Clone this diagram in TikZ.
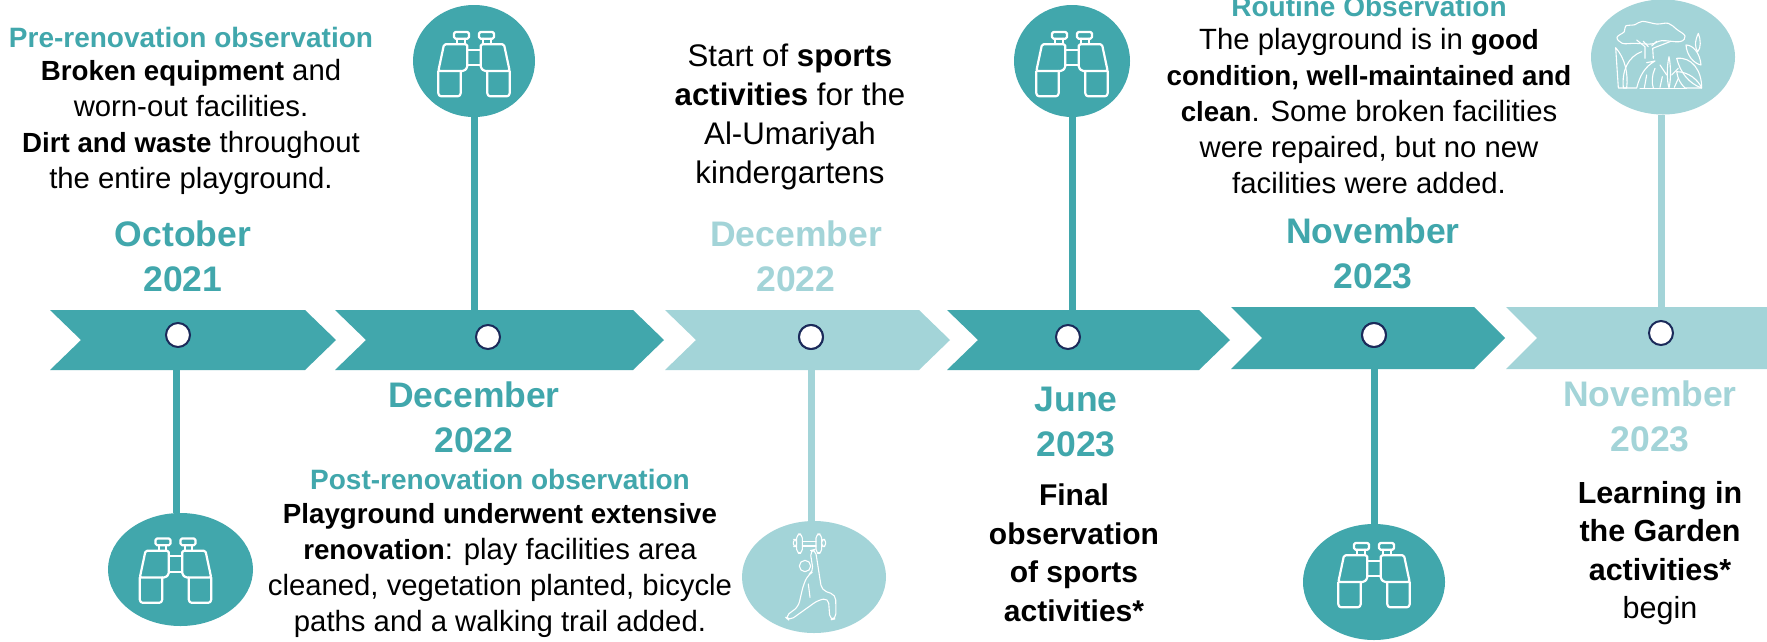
\documentclass[tikz,border=0pt]{standalone}
\usepackage{fontspec}
\setmainfont{Liberation Sans}
\usetikzlibrary{shapes.geometric}
\definecolor{teal1}{HTML}{41A7AC}
\definecolor{light1}{HTML}{A3D4D8}
\definecolor{navy1}{HTML}{1B2A5A}
\tikzset{
  bodytxt/.style={align=center,inner sep=0pt,font=\fontsize{29.3}{36}\selectfont,text=black},
  headtxt/.style={align=center,inner sep=0pt,font=\fontsize{28}{32}\selectfont\bfseries},
  datetxt/.style={align=center,inner sep=0pt,font=\fontsize{35.5}{45}\selectfont\bfseries},
  dot/.style={circle,draw=navy1,line width=2pt,fill=white,minimum size=24pt,inner sep=0pt},
  disc/.style={ellipse,inner sep=0pt,draw=none},
  stem/.style={line width=7pt},
  iconline/.style={draw=white,line width=2.2pt,line join=round,line cap=round,rounded corners=1.5pt},
  thinline/.style={draw=white,line width=1.1pt,line join=round,line cap=round},
}
\newcommand{\bb}[1]{{\fontsize{27.7}{\baselineskip}\selectfont\bfseries #1}}
\newcommand{\chev}[5]{% left,right tip,mid y,half h,colour
  \fill[#5] (#1,#3-#4) -- (#2-31,#3-#4) -- (#2,#3) -- (#2-31,#3+#4) -- (#1,#3+#4) -- (#1+31,#3) -- cycle;}
\newcommand{\binohalf}{%
  \draw[iconline] (-90,-56) -- (-20,-56) -- (-20,14) -- (-30,24) -- (-107,24) -- cycle;
  \draw[iconline,rounded corners=3pt] (-107,24) -- (-107,100) -- (-40,100) -- (-40,24);
  \draw[iconline] (-60,-93) rectangle (-15,-73);
  \draw[iconline] (-50,-73) -- (-50,-58) (-28,-73) -- (-28,-58);
  \draw[iconline] (-20,-40) -- (0,-40) (-20,7) -- (0,7);
}
\newcommand{\bino}[1]{%
  \begin{scope}[shift={(#1)},scale=1/3]
    \binohalf
    \begin{scope}[xscale=-1]\binohalf\end{scope}
  \end{scope}}
\begin{document}
\begin{tikzpicture}[x=1pt,y=-1pt]
\useasboundingbox (0,0) rectangle (1767,641);
\fill[white] (0,0) rectangle (1767,641);
% chevrons
\chev{50}{336}{340}{30}{teal1}
\chev{335}{664}{340}{30}{teal1}
\chev{665}{950}{340}{30}{light1}
\chev{947}{1230}{340}{30}{teal1}
\chev{1231}{1505}{338}{31}{teal1}
\chev{1506}{1798}{338}{31}{light1}
% dots
\node[dot] (d1) at (178,335) {};
\node[dot] (d2) at (488,337) {};
\node[dot] (d3) at (811,337) {};
\node[dot] (d4) at (1068,337) {};
\node[dot] (d5) at (1374,335) {};
\node[dot] (d6) at (1661,333) {};
% discs
\node[disc,fill=teal1,minimum width=145pt,minimum height=113pt] (e1) at (180.5,569.5) {};
\node[disc,fill=teal1,minimum width=122pt,minimum height=112pt] (e2) at (474,61) {};
\node[disc,fill=light1,minimum width=144pt,minimum height=112pt] (e3) at (814,577) {};
\node[disc,fill=teal1,minimum width=116pt,minimum height=112pt] (e4) at (1072,61) {};
\node[disc,fill=teal1,minimum width=142pt,minimum height=116pt] (e5) at (1374,582) {};
\node[disc,fill=light1,minimum width=144pt,minimum height=115pt] (e6) at (1663,57) {};
% stems
\draw[stem,teal1] ([xshift=-1.5pt]d1.south) -- ([xshift=-1.5pt]d1 |- e1.north);
\draw[stem,teal1] (e2.south -| 474,0) -- (474,310);
\draw[stem,light1] (d3) -- (d3 |- e3.north);
\draw[stem,teal1] (e4.south -| 1072,0) -- (1072,310);
\draw[stem,teal1] (d5) -- (d5 |- e5.north);
\draw[stem,light1] (e6.south -| 1661,0) -- (1661,308);
\node[dot] at (d3) {};
\node[dot] at (d5) {};
% icons
\bino{175.5,569.5}
\bino{474,63}
\bino{1072,63}
\bino{1374,574}
% person
\begin{scope}[shift={(740,510)},scale=1/3]
  \draw[thinline] (195,168) circle (17);
  \draw[thinline,rounded corners=5pt] (210,122) -- (226,118) -- (245,240) -- (287,255) -- (288,326) -- (270,330) -- (265,265) -- (235,270) -- (148,332) -- (135,320) -- (175,290) -- (190,225) -- (204,195) -- (220,185) -- cycle;
  \draw[thinline] (205,222) -- (210,262);
  \draw[thinline,rounded corners=4pt] (170,72) rectangle (187,130);
  \draw[thinline,rounded corners=4pt] (228,72) rectangle (245,130);
  \draw[thinline,rounded corners=3pt] (160,88) rectangle (170,110);
  \draw[thinline,rounded corners=3pt] (245,88) rectangle (257,110);
  \draw[thinline] (187,94) -- (228,94) (187,108) -- (228,108);
\end{scope}
% tree
\begin{scope}[shift={(1585,0)},scale=1/3]
  \draw[thinline] plot[smooth cycle,tension=0.6] coordinates {(96,112) (118,95) (122,78) (150,74) (172,64) (215,72) (250,70) (275,88) (300,108) (285,125) (230,122) (200,132) (150,130) (112,130)};
  \draw[thinline] (155,120) -- (180,140) -- (180,175) (205,175) -- (203,145) -- (255,125);
  \draw[thinline] (175,124) -- (190,140) (215,124) -- (200,138);
  \draw[thinline] (92,143) .. controls (120,175) and (130,220) .. (125,264) -- (100,264) -- cycle;
  \draw[thinline] (170,155) .. controls (130,170) and (110,210) .. (115,264) -- (155,264) .. controls (165,225) and (180,200) .. (210,183) -- (185,188);
  \draw[thinline] (165,266) -- (305,266);
  \draw[thinline] (185,225) -- (178,264) (210,205) .. controls (200,225) and (200,250) .. (205,264);
  \draw[thinline] (252,170) .. controls (245,200) and (245,240) .. (252,264) .. controls (258,240) and (258,200) .. (252,170);
  \draw[thinline] (225,195) -- (245,225) (232,230) -- (225,262) (280,205) -- (260,225) (280,235) -- (268,262);
  \draw[thinline] (340,100) .. controls (328,125) and (330,145) .. (338,155) .. controls (348,145) and (348,120) .. (340,100);
  \draw[thinline] (303,135) .. controls (325,135) and (345,160) .. (348,195) .. controls (325,190) and (305,165) .. (303,135);
  \draw[thinline] (275,175) .. controls (320,170) and (350,210) .. (350,264) .. controls (310,250) and (285,215) .. (275,175);
  \draw[thinline] (275,215) .. controls (310,215) and (340,240) .. (350,264) -- (300,264) .. controls (285,250) and (278,235) .. (275,215);
\end{scope}
% texts
\node[headtxt,text=teal1] (h1) at (191,37) {Pre-renovation observation};
\node[bodytxt] (t1) at (191,127) {\bb{Broken equipment} and\\worn-out facilities.\\\bb{Dirt and waste} throughout\\the entire playground.};
\node[datetxt,text=teal1] (m1) at (183,256) {October\\2021};
\node[datetxt,text=teal1] (m2) at (474,417) {December\\2022};
\node[headtxt,text=teal1] (h2) at (500,479) {Post-renovation observation};
\node[bodytxt] (t2) at (500,570) {\bb{Playground underwent extensive}\\\bb{renovation}: play facilities area\\cleaned, vegetation planted, bicycle\\paths and a walking trail added.};
\node[bodytxt,font=\fontsize{31.2}{39}\selectfont] (t3) at (790,117) {Start of \textbf{sports}\\\textbf{activities} for the\\Al-Umariyah\\kindergartens};
\node[datetxt,text=light1] (m3) at (796,256) {December\\2022};
\node[datetxt,text=teal1] (m4) at (1076,422) {June\\2023};
\node[bodytxt,font=\fontsize{30}{38.5}\selectfont\bfseries] (t4) at (1074,553) {Final\\observation\\of sports\\activities*};
\node[headtxt,text=teal1] (h5) at (1369,6) {Routine Observation};
\node[bodytxt] (t5) at (1369,111) {The playground is in \bb{good}\\\bb{condition, well-maintained and}\\\bb{clean}. Some broken facilities\\were repaired, but no new\\facilities were added.};
\node[datetxt,text=teal1] (m5) at (1373,253) {November\\2023};
\node[datetxt,text=light1] (m6) at (1650,416) {November\\2023};
\node[bodytxt,font=\fontsize{30.5}{38.5}\selectfont] (t6) at (1660,553) {\textbf{Learning in}\\\textbf{the Garden}\\\textbf{activities*}\\begin};
\end{tikzpicture}
\end{document}
